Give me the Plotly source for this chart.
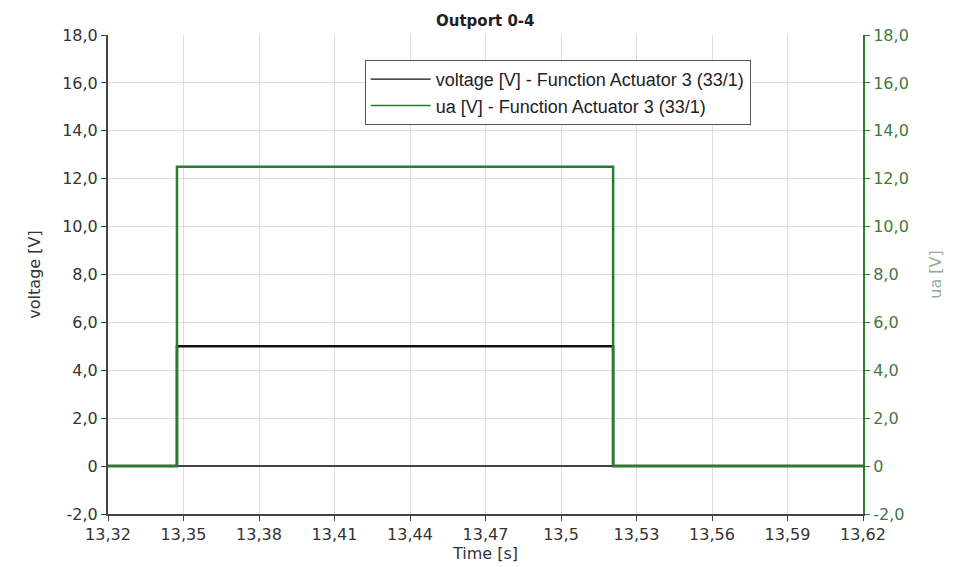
import plotly.graph_objects as go

# Step signals: breakpoints in time and the value held from each breakpoint on
time_s = [13.32, 13.3474, 13.5207, 13.62]
voltage_v = [0.0, 5.0, 0.0, 0.0]
ua_v = [0.0, 12.5, 0.0, 0.0]

x_ticks = [13.32, 13.35, 13.38, 13.41, 13.44, 13.47, 13.50, 13.53, 13.56, 13.59, 13.62]
x_ticktext = ["13,32", "13,35", "13,38", "13,41", "13,44", "13,47", "13,5", "13,53", "13,56", "13,59", "13,62"]
y_ticks = [-2, 0, 2, 4, 6, 8, 10, 12, 14, 16, 18]
y_ticktext = ["-2,0", "0", "2,0", "4,0", "6,0", "8,0", "10,0", "12,0", "14,0", "16,0", "18,0"]

VOLT_NAME = "voltage [V] - Function Actuator 3 (33/1)"
UA_NAME = "ua [V] - Function Actuator 3 (33/1)"

GREEN = "#2b7d2b"
AXIS = "#444444"
GRID = "#dedede"
TEXT = "#333333"
TICKFONT = dict(family="DejaVu Sans", size=16, color=TEXT)
TITLEFONT = dict(family="DejaVu Sans", size=16, color=TEXT)

fig = go.Figure()
fig.add_trace(go.Scatter(
    x=time_s, y=ua_v, mode="lines", line_shape="hv", name=UA_NAME,
    line=dict(color=GREEN, width=2.5), yaxis="y2", showlegend=False,
))
fig.add_trace(go.Scatter(
    x=time_s, y=voltage_v, mode="lines", line_shape="hv", name=VOLT_NAME,
    line=dict(color="#111111", width=2.5), showlegend=False,
))
# Legend entries use thin sample lines
fig.add_trace(go.Scatter(x=[None], y=[None], mode="lines", name=VOLT_NAME,
                         line=dict(color="#111111", width=1.3)))
fig.add_trace(go.Scatter(x=[None], y=[None], mode="lines", name=UA_NAME,
                         line=dict(color=GREEN, width=1.3)))

fig.update_layout(
    width=959, height=567,
    margin=dict(l=108, r=96, t=35, b=49),
    paper_bgcolor="white", plot_bgcolor="white",
    showlegend=True,
    legend=dict(
        x=0.34, y=0.948, xanchor="left", yanchor="top",
        bgcolor="white", bordercolor="#555555", borderwidth=1,
        font=dict(family="Liberation Sans", size=18, color="#222222"),
        itemwidth=60, tracegroupgap=0,
    ),
    xaxis=dict(
        range=[13.32, 13.62], tickvals=x_ticks, ticktext=x_ticktext,
        showgrid=True, gridcolor=GRID, gridwidth=1,
        showline=True, linecolor=AXIS, linewidth=2,
        ticks="outside", ticklen=5, tickcolor=AXIS,
        tickfont=TICKFONT, zeroline=False,
        title=dict(text="Time [s]", font=TITLEFONT, standoff=0),
    ),
    yaxis=dict(
        range=[-2, 18], tickvals=y_ticks, ticktext=y_ticktext,
        showgrid=True, gridcolor=GRID, gridwidth=1,
        showline=True, linecolor=AXIS, linewidth=2,
        ticks="outside", ticklen=5, tickcolor=AXIS,
        tickfont=TICKFONT,
        zeroline=True, zerolinecolor=AXIS, zerolinewidth=2,
        title=dict(text="voltage [V]", font=TITLEFONT, standoff=18),
    ),
    yaxis2=dict(
        range=[-2, 18], tickvals=y_ticks, ticktext=y_ticktext,
        overlaying="y", side="right", showgrid=False,
        showline=True, linecolor=GREEN, linewidth=2,
        ticks="outside", ticklen=5, tickcolor=GREEN,
        tickfont=dict(family="DejaVu Sans", size=16, color="#3f7a3f"),
        zeroline=False,
        title=dict(text="ua [V]", font=dict(family="DejaVu Sans", size=16, color="#8fae8f"), standoff=22),
    ),
    annotations=[dict(
        text="<b>Outport 0-4</b>", xref="paper", yref="paper",
        x=0.5, y=1.03, xanchor="center", yanchor="middle", showarrow=False,
        font=dict(family="DejaVu Sans", size=15, color="#222222"),
    )],
)

fig.write_html("out.html")
